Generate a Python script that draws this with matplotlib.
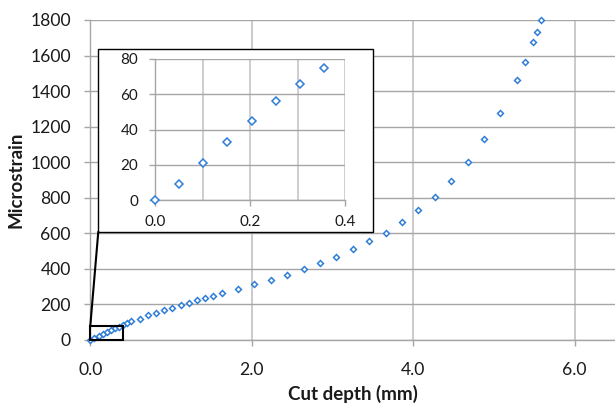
import matplotlib
matplotlib.use("Agg")
import matplotlib.pyplot as plt
from matplotlib.patches import Rectangle, ConnectionPatch
from matplotlib.ticker import MultipleLocator, FormatStrFormatter

# ---- data ----
cut_depth_mm = [0.0, 0.0508, 0.1016, 0.1524, 0.2032, 0.254, 0.3048, 0.3556,
                0.4064, 0.4572, 0.508, 0.6096, 0.7112, 0.8128, 0.9144, 1.016,
                1.1176, 1.2192, 1.3208, 1.4224, 1.524, 1.6256, 1.8288, 2.032,
                2.2352, 2.4384, 2.6416, 2.8448, 3.048, 3.2512, 3.4544, 3.6576,
                3.8608, 4.064, 4.2672, 4.4704, 4.6736, 4.8768, 5.08, 5.2832,
                5.3848, 5.4864, 5.5372, 5.588]
microstrain = [0, 9, 21, 33, 45, 56, 66, 75,
               85, 95, 106, 120, 138, 153, 167, 182,
               197, 210, 225, 235, 249, 263, 287, 315,
               339, 367, 401, 433, 467, 510, 557, 604,
               662, 730, 804, 895, 1003, 1133, 1279, 1461,
               1564, 1678, 1734, 1800]
x_label = "Cut depth (mm)"
y_label = "Microstrain"

plt.rcParams['font.family'] = ['Lato', 'DejaVu Sans']

BLUE = '#2f7ed8'
GRID_H = '#a6a6a6'
GRID_V = '#c6c6c6'
TXT = '#1a1a1a'

fig = plt.figure(figsize=(6.15, 4.03), dpi=100)

# main axes
ax = fig.add_axes([90.3/615, 63/403, (615-90.3)/615, 320/403], zorder=0)
ax.plot(cut_depth_mm, microstrain, linestyle='none', marker='D', markersize=3.0,
        markerfacecolor='white', markeredgecolor=BLUE, markeredgewidth=1.1,
        clip_on=False, zorder=3)
ax.set_xlim(0, 6.5)
ax.set_ylim(0, 1800)
ax.xaxis.set_major_locator(MultipleLocator(2.0))
ax.xaxis.set_major_formatter(FormatStrFormatter('%.1f'))
ax.yaxis.set_major_locator(MultipleLocator(200))
ax.yaxis.grid(True, color=GRID_H, lw=1.0)
ax.xaxis.grid(True, color=GRID_V, lw=1.3)
ax.set_axisbelow(True)
for s in ['top', 'right']:
    ax.spines[s].set_visible(False)
for s in ['left', 'bottom']:
    ax.spines[s].set_color(GRID_H)
    ax.spines[s].set_linewidth(1.0)
ax.tick_params(axis='y', length=4, width=1, color=GRID_H, pad=10,
               labelsize=12.6, labelcolor=TXT)
ax.tick_params(axis='x', length=4, width=1, color=GRID_H, pad=12,
               labelsize=12.6, labelcolor=TXT)
ax.set_xlabel(x_label, fontsize=13.5, fontweight='bold', color=TXT, labelpad=5)
ax.set_ylabel(y_label, fontsize=13.5, fontweight='bold', color=TXT, labelpad=4)

# zoom box on main
ax.add_patch(Rectangle((0, 0), 0.4, 80, fill=False, edgecolor='black', lw=1.5,
                       zorder=4, clip_on=False))

# inset frame
bx0, by0 = 98.3/615, (403-231.7)/403
bw, bh = 275/615, 182.4/403
fig.patches.append(Rectangle((bx0, by0), bw, bh, transform=fig.transFigure,
                             facecolor='white', edgecolor='black', lw=1.0,
                             zorder=1))

con = ConnectionPatch(xyA=(0, 80), coordsA=ax.transData,
                      xyB=(bx0, by0), coordsB=fig.transFigure,
                      color='black', lw=1.5, zorder=5)
fig.add_artist(con)

# inset axes
ins = fig.add_axes([155/615, (403-200)/403, 190/615, 141/403], zorder=2)
ins.patch.set_alpha(0)
ins_x = [x for x, y in zip(cut_depth_mm, microstrain) if x <= 0.4 and y <= 80]
ins_y = [y for x, y in zip(cut_depth_mm, microstrain) if x <= 0.4 and y <= 80]
ins.plot(ins_x, ins_y, linestyle='none', marker='D', markersize=4.4,
         markerfacecolor='white', markeredgecolor=BLUE, markeredgewidth=1.1,
         clip_on=False, zorder=3)
ins.set_xlim(0, 0.4)
ins.set_ylim(0, 80)
ins.xaxis.set_major_locator(MultipleLocator(0.2))
ins.xaxis.set_minor_locator(MultipleLocator(0.1))
ins.xaxis.set_major_formatter(FormatStrFormatter('%.1f'))
ins.yaxis.set_major_locator(MultipleLocator(20))
ins.grid(True, which='both', axis='x', color=GRID_V, lw=1.2)
ins.grid(True, which='major', axis='y', color=GRID_H, lw=1.0)
ins.set_axisbelow(True)
for s in ['top', 'right']:
    ins.spines[s].set_visible(False)
for s in ['left', 'bottom']:
    ins.spines[s].set_color(GRID_H)
    ins.spines[s].set_linewidth(1.0)
ins.tick_params(axis='both', which='major', length=4, width=1, color=GRID_H,
                labelsize=11, labelcolor=TXT)
ins.tick_params(axis='y', pad=8)
ins.tick_params(axis='x', pad=7)
ins.tick_params(axis='x', which='minor', length=0)

fig.savefig('out.png', dpi=100)
